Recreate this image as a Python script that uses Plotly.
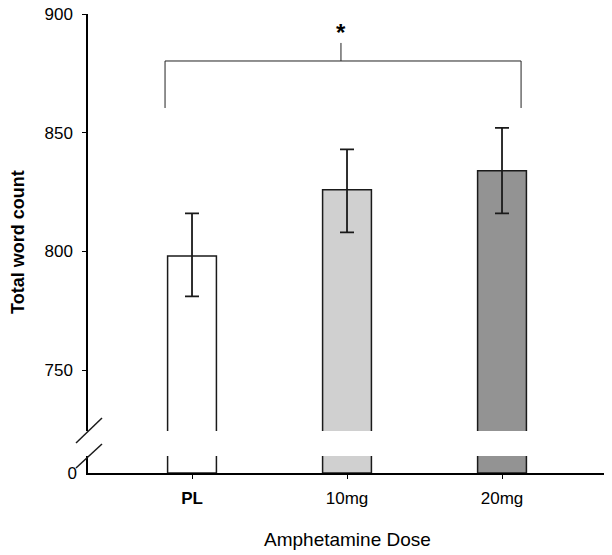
import plotly.graph_objects as go

doses = ["PL", "10mg", "20mg"]
dose_labels = ["<b>PL</b>", "10mg", "20mg"]
word_count = [798, 826, 834]
err_plus = [18, 17, 18]
err_minus = [17, 18, 18]
bar_colors = ["#ffffff", "#d0d0d0", "#939393"]

# lower panel of the broken axis shows the bars only up to this height
stub_range = 30
stub_height = [min(v, stub_range * 1.3) for v in word_count]

# significance bracket (x in category units, y in word count)
bracket_x = [-0.174, 2.123]
bracket_y = 880.2
bracket_leg_y = 860.4
bracket_mid_x = 0.961
bracket_mid_top = 887.8

FONT = "Liberation Sans, Arial, sans-serif"

# body margin is removed below, so these are page pixels
L, R, T, B = 88, 8, 14, 82
PLOT_H = 555 - T - B
PLOT_W = 612 - L - R


def py(page_y):
    # page pixel row -> paper y fraction
    return (473 - page_y) / PLOT_H


def px(page_x):
    return (page_x - L) / PLOT_W


fig = go.Figure()

fig.add_trace(go.Bar(
    x=doses, y=word_count, yaxis="y",
    width=0.315, offset=-0.1575,
    marker=dict(color=bar_colors, line=dict(color="#1a1a1a", width=1.5)),
    error_y=dict(type="data", array=err_plus, arrayminus=err_minus,
                 color="#1a1a1a", thickness=1.8, width=7),
    showlegend=False,
))
fig.add_trace(go.Bar(
    x=doses, y=stub_height, yaxis="y2",
    width=0.315, offset=-0.1575,
    marker=dict(color=bar_colors, line=dict(color="#1a1a1a", width=1.5)),
    showlegend=False,
))

shapes = []
line = dict(color="#222222", width=1)
shapes.append(dict(type="line", xref="x", yref="y", x0=bracket_x[0], x1=bracket_x[1],
                   y0=bracket_y, y1=bracket_y, line=line))
for bx in bracket_x:
    shapes.append(dict(type="line", xref="x", yref="y", x0=bx, x1=bx,
                       y0=bracket_leg_y, y1=bracket_y, line=line))
shapes.append(dict(type="line", xref="x", yref="y", x0=bracket_mid_x, x1=bracket_mid_x,
                   y0=bracket_y, y1=bracket_mid_top, line=line))

# axis break slashes
brk = dict(color="#1a1a1a", width=1.5)
shapes.append(dict(type="line", xref="paper", yref="paper",
                   x0=px(76), x1=px(102), y0=py(443), y1=py(418), line=brk))
shapes.append(dict(type="line", xref="paper", yref="paper",
                   x0=px(76), x1=px(102), y0=py(468), y1=py(444), line=brk))

fig.update_layout(
    width=612, height=555,
    margin=dict(l=L, r=R, t=T, b=B),
    paper_bgcolor="white", plot_bgcolor="white",
    font=dict(family=FONT, size=17, color="black"),
    barmode="overlay",
    hovermode=False,
    shapes=shapes,
    xaxis=dict(
        anchor="y2", range=[-0.671, 2.658], automargin=False,
        tickmode="array", tickvals=doses, ticktext=dose_labels,
        ticks="outside", ticklen=4, tickcolor="black",
        showline=True, linecolor="black", linewidth=1.5,
        showgrid=False, zeroline=False,
        tickfont=dict(size=17), ticklabelstandoff=5,
    ),
    yaxis=dict(
        domain=[py(431), 1], range=[724.3, 900], automargin=False,
        tickvals=[750, 800, 850, 900],
        ticks="outside", ticklen=4, tickcolor="black",
        showline=True, linecolor="black", linewidth=1.5,
        showgrid=False, zeroline=False,
        ticklabeloverflow="allow", ticklabelstandoff=6,
    ),
    yaxis2=dict(
        domain=[0, py(456)], range=[0, stub_range], automargin=False,
        tickvals=[0],
        ticks="", showline=True, linecolor="black", linewidth=1.5,
        showgrid=False, zeroline=False,
        ticklabelstandoff=6,
    ),
    annotations=[
        dict(text="<b>*</b>", xref="x", yref="y", x=bracket_mid_x, y=892,
             showarrow=False, font=dict(size=24)),
        dict(text="Amphetamine Dose", xref="paper", yref="paper", x=px(347), y=py(539),
             xanchor="center", yanchor="middle", showarrow=False, font=dict(size=19)),
        dict(text="<b>Total word count</b>", xref="paper", yref="paper", x=px(18), y=py(242),
             xanchor="center", yanchor="middle", textangle=-90, showarrow=False,
             font=dict(size=18)),
    ],
)

fig.write_html("out.html", config={"displayModeBar": False},
               post_script="document.body.style.margin='0';")
